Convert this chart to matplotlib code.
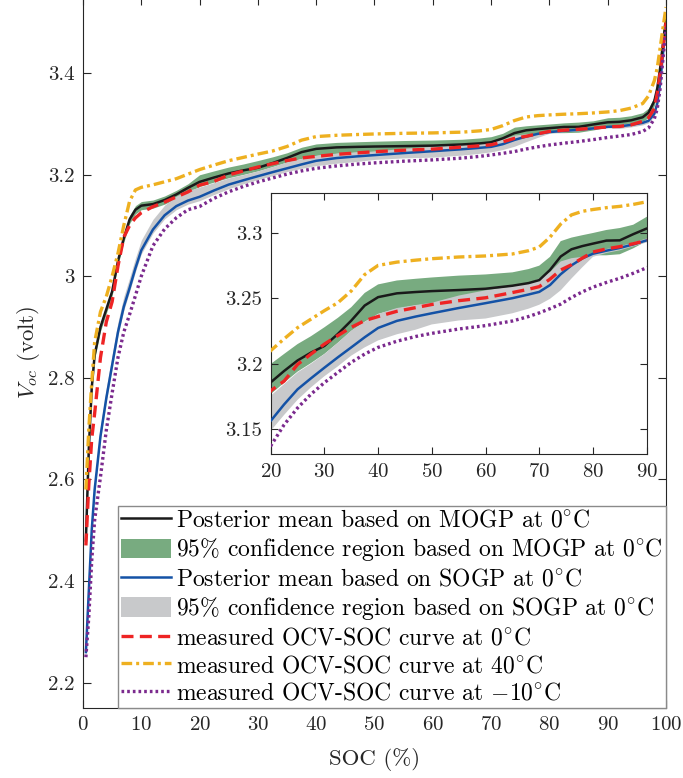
import numpy as np
import matplotlib
matplotlib.use("Agg")
import matplotlib.pyplot as plt
from matplotlib.ticker import FormatStrFormatter

plt.rcParams['font.family'] = 'serif'
plt.rcParams['font.serif'] = ['cmr10']
plt.rcParams['mathtext.fontset'] = 'cm'
plt.rcParams['axes.formatter.use_mathtext'] = True

# SOC grid (%) shared by all curves
soc = [0.5, 1, 1.5, 2, 3, 4, 5, 6, 7, 8, 9, 10, 12, 14, 16, 18,
       20, 22.5, 25, 27.5, 30, 32.5, 35, 37.5, 40, 43.5, 47, 50, 55, 60, 65, 68, 70,
       72, 74, 76, 78, 80, 82.5, 85, 87.5, 90,
       92, 94, 96, 97, 98, 98.5, 99, 99.5, 100]

# posterior mean and 95% band, MOGP at 0C
mogp_mean = [2.48, 2.66, 2.78, 2.845, 2.90, 2.935, 2.97, 3.03, 3.075, 3.112, 3.131, 3.139, 3.142, 3.150, 3.161, 3.174,
             3.1858, 3.1945, 3.2025, 3.2085, 3.2136, 3.2227, 3.2329, 3.2444, 3.2508, 3.2537, 3.2547, 3.2554, 3.2562, 3.2572, 3.2595, 3.2615, 3.2638,
             3.2715, 3.2818, 3.2873, 3.2897, 3.2916, 3.2939, 3.2941, 3.2988, 3.3031,
             3.304, 3.307, 3.313, 3.322, 3.345, 3.37, 3.41, 3.46, 3.51]
mogp_lo = [2.472, 2.652, 2.772, 2.837, 2.892, 2.927, 2.962, 3.022, 3.067, 3.104, 3.123, 3.131, 3.134, 3.142, 3.153, 3.166,
           3.1768, 3.1855, 3.1940, 3.2005, 3.2075, 3.216, 3.2250, 3.232, 3.238, 3.242, 3.2445, 3.246, 3.248, 3.250, 3.252, 3.254, 3.256,
           3.262, 3.270, 3.276, 3.280, 3.2827, 3.2827, 3.2835, 3.2880, 3.2935,
           3.295, 3.298, 3.304, 3.313, 3.336, 3.361, 3.401, 3.451, 3.501]
mogp_hi = [2.488, 2.668, 2.788, 2.853, 2.908, 2.943, 2.978, 3.038, 3.083, 3.120, 3.139, 3.147, 3.150, 3.158, 3.169, 3.182,
           3.1998, 3.2075, 3.215, 3.221, 3.2278, 3.2350, 3.2431, 3.2540, 3.2605, 3.2635, 3.2648, 3.2658, 3.2672, 3.2681, 3.2697, 3.2722, 3.2748,
           3.2815, 3.2935, 3.2962, 3.2980, 3.2997, 3.3020, 3.3035, 3.3060, 3.3120,
           3.313, 3.316, 3.322, 3.331, 3.354, 3.379, 3.419, 3.469, 3.519]

# posterior mean and 95% band, SOGP at 0C
sogp_mean = [2.26, 2.38, 2.50, 2.58, 2.685, 2.76, 2.825, 2.89, 2.94, 2.977, 3.016, 3.051, 3.092, 3.12, 3.138, 3.149,
             3.1564, 3.1690, 3.1805, 3.1889, 3.1970, 3.2049, 3.2125, 3.2202, 3.2273, 3.2327, 3.2360, 3.2385, 3.2425, 3.2462, 3.2500, 3.2528, 3.2548,
             3.2600, 3.2683, 3.2750, 3.2803, 3.2839, 3.2862, 3.2883, 3.2910, 3.2941,
             3.295, 3.298, 3.302, 3.306, 3.32, 3.34, 3.38, 3.44, 3.50]
sogp_lo = [2.253, 2.373, 2.493, 2.573, 2.678, 2.753, 2.818, 2.883, 2.933, 2.970, 3.009, 3.044, 3.085, 3.113, 3.131, 3.142,
           3.1488, 3.161, 3.1725, 3.182, 3.1905, 3.198, 3.2062, 3.2125, 3.2178, 3.2225, 3.226, 3.2300, 3.2330, 3.2345, 3.2385, 3.2420, 3.2450,
           3.2495, 3.2560, 3.2650, 3.2735, 3.2815, 3.2845, 3.2865, 3.2895, 3.2925,
           3.291, 3.294, 3.298, 3.302, 3.316, 3.336, 3.376, 3.436, 3.496]
sogp_hi = [2.28, 2.40, 2.52, 2.60, 2.705, 2.78, 2.845, 2.91, 2.96, 2.997, 3.036, 3.071, 3.112, 3.14, 3.158, 3.169,
           3.1756, 3.1845, 3.1934, 3.2000, 3.2074, 3.2160, 3.2253, 3.232, 3.238, 3.2425, 3.2448, 3.2465, 3.2520, 3.2560, 3.2590, 3.2615, 3.2650,
           3.2700, 3.2780, 3.2805, 3.2815, 3.2845, 3.2875, 3.2895, 3.2925, 3.2955,
           3.299, 3.302, 3.306, 3.310, 3.324, 3.344, 3.384, 3.444, 3.504]

# measured OCV-SOC curves
ocv_0c = [2.47, 2.59, 2.68, 2.73, 2.84, 2.91, 2.95, 3.02, 3.077, 3.100, 3.115, 3.125, 3.137, 3.146, 3.156, 3.166,
          3.1794, 3.1868, 3.1995, 3.2074, 3.2150, 3.2215, 3.2278, 3.2329, 3.2360, 3.2400, 3.2428, 3.2452, 3.2481, 3.2503, 3.2543, 3.2568, 3.2588,
          3.2645, 3.2715, 3.2755, 3.2805, 3.2852, 3.2876, 3.2893, 3.2915, 3.2941,
          3.295, 3.298, 3.305, 3.312, 3.33, 3.36, 3.40, 3.45, 3.50]
ocv_40c = [2.58, 2.70, 2.79, 2.87, 2.93, 2.96, 3.00, 3.045, 3.10, 3.148, 3.170, 3.175, 3.180, 3.186, 3.192, 3.201,
           3.2100, 3.2190, 3.2275, 3.2340, 3.2405, 3.2465, 3.2555, 3.2680, 3.2750, 3.2775, 3.2790, 3.2801, 3.2814, 3.2822, 3.2837, 3.2862, 3.2890,
           3.2965, 3.3065, 3.3135, 3.3162, 3.3176, 3.3190, 3.3200, 3.3215, 3.3235,
           3.326, 3.331, 3.340, 3.355, 3.385, 3.41, 3.45, 3.49, 3.53]
ocv_m10c = [2.25, 2.33, 2.44, 2.52, 2.605, 2.697, 2.77, 2.84, 2.89, 2.925, 2.962, 3.00, 3.06, 3.093, 3.115, 3.131,
            3.1373, 3.1535, 3.1663, 3.1768, 3.1856, 3.1934, 3.2011, 3.2074, 3.2125, 3.2172, 3.2208, 3.2232, 3.2265, 3.2291, 3.2326, 3.2360, 3.2388,
            3.2420, 3.2455, 3.2505, 3.2548, 3.2584, 3.2620, 3.2652, 3.2690, 3.2732,
            3.276, 3.279, 3.285, 3.292, 3.31, 3.33, 3.37, 3.43, 3.49]

labels = [r'Posterior mean based on MOGP at $0^{\circ}\mathrm{C}$',
          r'95% confidence region based on MOGP at $0^{\circ}\mathrm{C}$',
          r'Posterior mean based on SOGP at $0^{\circ}\mathrm{C}$',
          r'95% confidence region based on SOGP at $0^{\circ}\mathrm{C}$',
          r'measured OCV-SOC curve at $0^{\circ}\mathrm{C}$',
          r'measured OCV-SOC curve at $40^{\circ}\mathrm{C}$',
          r'measured OCV-SOC curve at $-10^{\circ}\mathrm{C}$']

c_black = '#1a1a1a'
c_green = '#78ab80'
c_blue = '#1452a6'
c_gray = '#c8c9cb'
c_red = '#ee2424'
c_orange = '#eeb020'
c_purple = '#7b2a8e'
axc = '#262626'


def draw(ax, with_labels):
    lab = labels if with_labels else [None] * 7
    h_green = ax.fill_between(soc, mogp_lo, mogp_hi, color=c_green, lw=0, label=lab[1], zorder=1)
    h_gray = ax.fill_between(soc, sogp_lo, sogp_hi, color=c_gray, lw=0, label=lab[3], zorder=2)
    h_blue, = ax.plot(soc, sogp_mean, color=c_blue, lw=1.8, label=lab[2], zorder=3)
    h_black, = ax.plot(soc, mogp_mean, color=c_black, lw=1.8, label=lab[0], zorder=4)
    h_red, = ax.plot(soc, ocv_0c, color=c_red, lw=2.4, ls=(0, (3.6, 1.9)), label=lab[4], zorder=5)
    h_orange, = ax.plot(soc, ocv_40c, color=c_orange, lw=2.4, ls=(0, (3.2, 1.2, 0.9, 1.2)), label=lab[5], zorder=5)
    h_purple, = ax.plot(soc, ocv_m10c, color=c_purple, lw=2.4, ls=(0, (0.8, 0.9)), label=lab[6], zorder=5)
    return [h_black, h_green, h_blue, h_gray, h_red, h_orange, h_purple]


def style(ax, ticklen):
    ax.tick_params(direction='in', top=True, right=True, length=ticklen, width=0.8,
                   colors=axc, labelsize=15, pad=6)
    for s in ax.spines.values():
        s.set_color(axc)
        s.set_linewidth(0.8)


fig = plt.figure(figsize=(6.83, 7.78), dpi=100)
ax = fig.add_axes([0.1215, 0.09, 0.8536, 0.914])
handles = draw(ax, True)
ax.set_xlim(0, 100)
ax.set_ylim(2.15, 3.55)
ax.set_xticks(np.arange(0, 101, 10))
ax.set_yticks([2.2, 2.4, 2.6, 2.8, 3.0, 3.2, 3.4])
ax.yaxis.set_major_formatter(FormatStrFormatter('%g'))
style(ax, 6)
ax.set_xlabel('SOC (%)', fontsize=16.5, color=axc, labelpad=10)
ax.set_ylabel(r'$V_{oc}$ (volt)', fontsize=16.5, color=axc)
ax.yaxis.set_label_coords(-0.07, 0.5)

leg = ax.legend(handles=handles, loc='lower right', bbox_to_anchor=(1.0, 0.0),
                borderaxespad=0, fontsize=17, frameon=True, fancybox=False,
                framealpha=1, edgecolor='#8a8a8a', handlelength=2.12,
                handleheight=0.9, handletextpad=0.2, labelspacing=0.19,
                borderpad=0.14)
leg.get_frame().set_linewidth(1.0)
leg.set_zorder(20)

# inset zoom on the plateau
axin = fig.add_axes([0.3963, 0.4161, 0.5505, 0.3355])
draw(axin, False)
axin.set_xlim(20, 90)
axin.set_ylim(3.131, 3.330)
axin.set_xticks(np.arange(20, 91, 10))
axin.set_yticks([3.15, 3.2, 3.25, 3.3])
axin.yaxis.set_major_formatter(FormatStrFormatter('%g'))
style(axin, 5)
axin.set_zorder(10)

fig.savefig('out.png', dpi=100)
